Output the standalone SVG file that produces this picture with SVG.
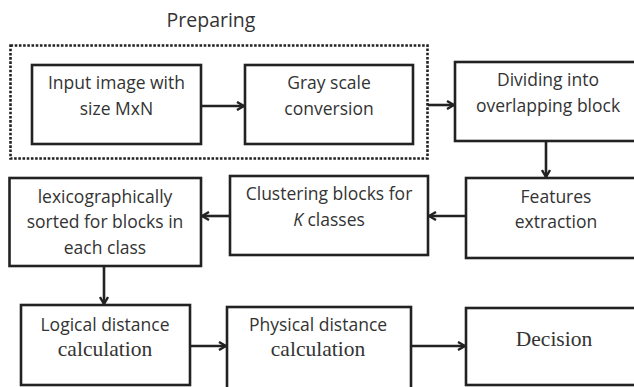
<svg xmlns="http://www.w3.org/2000/svg" width="634" height="387" viewBox="0 0 634 387">
<defs>
<marker id="arr" viewBox="0 0 10 10" refX="9" refY="5" markerWidth="10" markerHeight="10" markerUnits="userSpaceOnUse" orient="auto">
<polyline points="2,1 9,5 2,9" fill="none" stroke="#222" stroke-width="2.4" stroke-linejoin="miter"/>
</marker>
<style>
.box{fill:#fff;stroke:#222;stroke-width:2.6}
.t{font-family:"Open Sans","Liberation Sans",sans-serif;font-size:17.5px;fill:#333;text-anchor:middle}
.s{font-family:"Liberation Serif","Times New Roman",serif;font-size:21.5px;fill:#333;text-anchor:middle}
.c{fill:none;stroke:#222;stroke-width:2.6}
</style>
</defs>
<rect width="634" height="387" fill="#fff"/>
<g id="preparing">
<rect x="10.5" y="45.5" width="417" height="113" fill="none" stroke="#222" stroke-width="2.6" stroke-dasharray="2.6 1.6"/>
<text x="211" y="27" font-family="'Open Sans','Liberation Sans',sans-serif" font-size="19.5px" fill="#333" text-anchor="middle">Preparing</text>
</g>
<g id="input">
<rect class="box" x="32" y="65" width="169" height="79"/>
<text class="t" x="116.5" y="89">Input image with</text>
<text class="t" x="116.5" y="114.5">size MxN</text>
</g>
<g id="gray">
<rect class="box" x="245" y="65" width="168" height="79"/>
<text class="t" x="329" y="89">Gray scale</text>
<text class="t" x="329" y="114.5">conversion</text>
</g>
<g id="dividing">
<rect class="box" x="455" y="62" width="190" height="79"/>
<text class="t" x="548" y="86">Dividing into</text>
<text class="t" x="548" y="111.5">overlapping block</text>
</g>
<g id="features">
<rect class="box" x="466" y="178" width="180" height="80"/>
<text class="t" x="556" y="202.5">Features</text>
<text class="t" x="556" y="228">extraction</text>
</g>
<g id="clustering">
<rect class="box" x="230" y="176" width="198" height="79"/>
<text class="t" x="329" y="200">Clustering blocks for</text>
<text class="t" x="329" y="226"><tspan font-style="italic">K</tspan> classes</text>
</g>
<g id="lexi">
<rect class="box" x="9.5" y="178" width="191.5" height="88"/>
<text class="t" x="105" y="202.5">lexicographically</text>
<text class="t" x="105" y="228">sorted for blocks in</text>
<text class="t" x="105" y="254">each class</text>
</g>
<g id="logical">
<rect class="box" x="21" y="305" width="169" height="80"/>
<text class="t" x="105" y="330.5">Logical distance</text>
<text class="s" x="105" y="356">calculation</text>
</g>
<g id="physical">
<rect class="box" x="227" y="307" width="184" height="82"/>
<text class="t" x="318" y="331">Physical distance</text>
<text class="s" x="318" y="356">calculation</text>
</g>
<g id="decision">
<rect class="box" x="466" y="308" width="180" height="77"/>
<text class="s" x="554" y="346" font-size="20px">Decision</text>
</g>
<g id="connectors">
<line class="c" x1="201" y1="106" x2="244" y2="106" marker-end="url(#arr)"/>
<line class="c" x1="428" y1="105" x2="454" y2="105" marker-end="url(#arr)"/>
<line class="c" x1="546" y1="141" x2="546" y2="177" marker-end="url(#arr)"/>
<line class="c" x1="466" y1="216" x2="429" y2="216" marker-end="url(#arr)"/>
<line class="c" x1="230" y1="216" x2="202" y2="216" marker-end="url(#arr)"/>
<line class="c" x1="104" y1="266" x2="104" y2="304" marker-end="url(#arr)"/>
<line class="c" x1="190" y1="346" x2="226" y2="346" marker-end="url(#arr)"/>
<line class="c" x1="411" y1="346" x2="465" y2="346" marker-end="url(#arr)"/>
</g>
</svg>
